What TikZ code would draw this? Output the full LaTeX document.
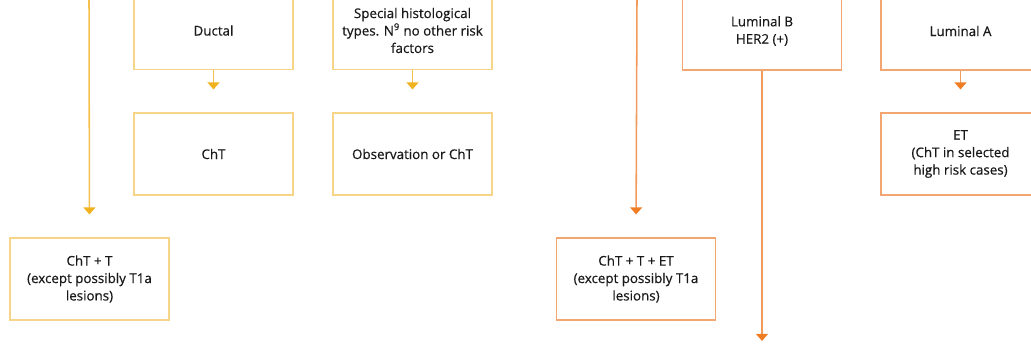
\documentclass[tikz,border=0pt]{standalone}
\usepackage{fontspec}
\setmainfont{Open Sans}
\newfontfamily\boxfont{Open Sans}[FakeBold=0.5]
\usepackage{xcolor}
\usetikzlibrary{arrows.meta, positioning}

\definecolor{ylwline}{HTML}{F4C14E}
\definecolor{ylwbox}{HTML}{F6D488}
\definecolor{ylwtip}{HTML}{F0B21F}
\definecolor{orgline}{HTML}{F29A5C}
\definecolor{orgbox}{HTML}{F3A672}
\definecolor{orgtip}{HTML}{EE7D24}

\begin{document}
\begin{tikzpicture}[
  x=0.025cm, y=-0.025cm,
  txtbox/.style={rectangle, minimum width=3.975cm, minimum height=2.05cm, inner sep=0pt, align=center, font=\boxfont\fontsize{9.5}{12.4}\selectfont, text=black!90},
  topbox/.style={minimum height=1.95cm},
  ylwbox/.style={txtbox, draw=ylwbox, line width=1pt},
  orgbox/.style={txtbox, draw=orgbox, line width=1pt},
  ylwarr/.style={-{Triangle[width=0.3cm, length=0.18cm, color=ylwtip]}, ylwline, line width=1.1pt, shorten >=0.57cm},
  orgarr/.style={-{Triangle[width=0.3cm, length=0.18cm, color=orgtip]}, orgline, line width=1.1pt, shorten >=0.57cm}
]
\useasboundingbox (0,0) rectangle (1031,348);

%  : -- HER2 (+) side, yellow  : --
\coordinate (ytop) at (89,-2);
\node[ylwbox] (chtT) at (89.5, 279) {ChT + T\\(except possibly T1a\\lesions)};
\draw[ylwarr] (ytop) -- (chtT.north);

\node[ylwbox, topbox] (ductal) at (213.5, 30.5) {Ductal};
\node[ylwbox] (cht) at (213.5, 154) {ChT};
\draw[ylwarr] (ductal) -- (cht);

\node[ylwbox, topbox] (special) at (412.5, 30.5) {Special histological\\types. N\textsuperscript{9} no other risk\\factors};
\node[ylwbox] (obs) at (412.5, 154) {Observation or ChT};
\draw[ylwarr] (special) -- (obs);

%  : -- Luminal side, orange  : --
\coordinate (otop) at (637,-2);
\node[orgbox] (chtTET) at (636, 279) {ChT + T + ET\\(except possibly T1a\\lesions)};
\draw[orgarr] (otop) -- (chtTET.north);

\node[orgbox, topbox] (lumB) at (762, 31) {Luminal B\\HER2 (+)};
\coordinate (lumBend) at (762, 341);
\draw[orgarr, shorten >=0pt] (lumB) -- (lumBend);

\node[orgbox, topbox] (lumA) at (960.5, 31) {Luminal A};
\node[orgbox] (et) at (960.5, 154) {ET\\(ChT in selected\\high risk cases)};
\draw[orgarr] (lumA) -- (et);

\end{tikzpicture}
\end{document}
